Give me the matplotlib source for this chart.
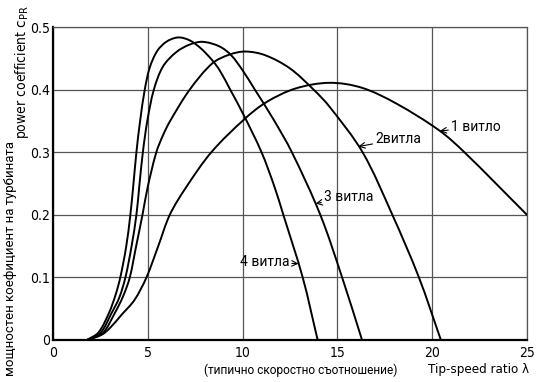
import numpy as np
import matplotlib.pyplot as plt
from matplotlib.path import Path
from matplotlib.patches import PathPatch

# values
x_4 = [1.8, 2.4, 2.95, 3.3, 3.55, 3.86, 4.08, 4.23, 4.40, 4.60, 4.84, 5.1, 5.5, 6.0,
       6.6, 7.2, 7.8, 8.4, 8.79, 9.35, 10.05, 11.0, 11.68, 12.15, 13.17, 13.96]
cp_4 = [0, 0.012, 0.043, 0.072, 0.100, 0.149, 0.200, 0.245, 0.300, 0.351, 0.400, 0.435,
        0.462, 0.477, 0.4835, 0.479, 0.466, 0.447, 0.431, 0.400, 0.360, 0.300, 0.245,
        0.200, 0.100, 0]

x_3 = [1.8, 2.5, 3.09, 3.5, 3.82, 4.14, 4.40, 4.55, 4.74, 4.98, 5.32, 5.8, 6.5, 7.2,
       7.9, 8.79, 9.4, 10.0, 10.65, 11.6, 12.6, 14.1, 15.25, 16.3]
cp_3 = [0, 0.011, 0.043, 0.068, 0.100, 0.149, 0.200, 0.245, 0.300, 0.351, 0.400, 0.437,
        0.460, 0.472, 0.4765, 0.469, 0.455, 0.431, 0.400, 0.354, 0.300, 0.200, 0.100, 0]

x_2 = [1.8, 2.6, 3.26, 3.7, 4.05, 4.38, 4.72, 5.0, 5.45, 5.8, 6.16, 7.21, 8.4, 9.3,
       10.15, 11.2, 12.5, 13.75, 14.58, 16.33, 17.9, 19.3, 20.46]
cp_2 = [0, 0.010, 0.043, 0.070, 0.100, 0.149, 0.200, 0.245, 0.300, 0.327, 0.349, 0.400,
        0.442, 0.456, 0.461, 0.455, 0.434, 0.400, 0.373, 0.300, 0.200, 0.100, 0]

x_1 = [1.8, 2.6, 3.0, 3.61, 4.3, 4.93, 5.54, 6.16, 7.0, 8.35, 10.1, 11.25, 12.8, 14.6,
       16.3, 18.1, 20.37, 21.7, 25.0]
cp_1 = [0, 0.009, 0.019, 0.040, 0.064, 0.100, 0.149, 0.200, 0.243, 0.300, 0.353, 0.380,
        0.402, 0.411, 0.403, 0.378, 0.335, 0.300, 0.200]

x_ticks = [0, 5, 10, 15, 20, 25]
y_ticks = [0, 0.1, 0.2, 0.3, 0.4, 0.5]
y_tick_labels = ["0", "0.1", "0.2", "0.3", "0.4", "0.5"]

label_font = "Roboto"


def smooth_path(xs, ys):
    # chord-length Catmull-Rom curve through the read points, as Bezier segments
    pts = np.column_stack([xs, ys])
    scale = np.array([474 / 25, 313 / 0.5])  # roughly pixels per unit
    ext = np.vstack([2 * pts[0] - pts[1], pts, 2 * pts[-1] - pts[-2]])
    seg = np.linalg.norm(np.diff(ext * scale, axis=0), axis=1)
    t = np.concatenate([[0], np.cumsum(seg)])
    tang = (ext[2:] - ext[:-2]) / (t[2:] - t[:-2])[:, None]
    verts = [pts[0]]
    codes = [Path.MOVETO]
    for i in range(len(pts) - 1):
        h = t[i + 2] - t[i + 1]
        verts += [pts[i] + tang[i] * h / 3, pts[i + 1] - tang[i + 1] * h / 3, pts[i + 1]]
        codes += [Path.CURVE4] * 3
    return Path(verts, codes)


fig = plt.figure(figsize=(5.44, 3.82), dpi=100)
ax = fig.add_axes([0.0974, 0.11, 0.8713, 0.819])

for xs, ys in [(x_1, cp_1), (x_2, cp_2), (x_3, cp_3), (x_4, cp_4)]:
    ax.add_patch(PathPatch(smooth_path(xs, ys), fill=False, edgecolor="black",
                           lw=1.4, capstyle="round", zorder=3))

ax.set_xlim(0, 25)
ax.set_ylim(0, 0.5)
ax.set_xticks(x_ticks)
ax.set_yticks(y_ticks)
ax.set_yticklabels(y_tick_labels)
ax.tick_params(length=0, labelsize=10)
ax.tick_params(axis="y", pad=2)
ax.tick_params(axis="x", pad=4)
for lab in ax.get_xticklabels() + ax.get_yticklabels():
    lab.set_fontstretch("condensed")
ax.grid(True, color="#555555", lw=0.9)

for side in ["top", "right"]:
    ax.spines[side].set_color("#555555")
    ax.spines[side].set_linewidth(0.9)
for side in ["left", "bottom"]:
    ax.spines[side].set_color("black")
    ax.spines[side].set_linewidth(1.6)

arrow = dict(arrowstyle="->", color="black", lw=0.8, shrinkA=0, shrinkB=0)
ax.annotate("1 витло", xy=(20.4, 0.334), xytext=(21.0, 0.34), fontsize=10,
            family=label_font, va="center", ha="left", arrowprops=arrow)
ax.annotate("2витла", xy=(16.1, 0.309), xytext=(17.0, 0.321), fontsize=10,
            family=label_font, va="center", ha="left", arrowprops=arrow)
ax.annotate("3 витла", xy=(13.85, 0.218), xytext=(14.3, 0.228), fontsize=10,
            family=label_font, va="center", ha="left", arrowprops=arrow)
ax.annotate("4 витла", xy=(12.95, 0.122), xytext=(12.45, 0.124), fontsize=10,
            family=label_font, va="center", ha="right", arrowprops=arrow)

fig.text(22 / 544, 1 - 72 / 382, r"power coefficient $\mathrm{c_{PR}}$", rotation=90,
         ha="center", va="center", fontsize=10, fontstretch="condensed")
fig.text(11 / 544, 1 - 259 / 382, "мощностен коефициент на турбината", rotation=90,
         ha="center", va="center", fontsize=9.5, family=label_font)
fig.text(301 / 544, 1 - 370 / 382, "(типично скоростно съотношение)",
         ha="center", va="center", fontsize=8.6, family=label_font)
fig.text(478 / 544, 1 - 370 / 382, "Tip-speed ratio λ",
         ha="center", va="center", fontsize=9.5, fontstretch="condensed")

fig.savefig("out.png", dpi=100)
